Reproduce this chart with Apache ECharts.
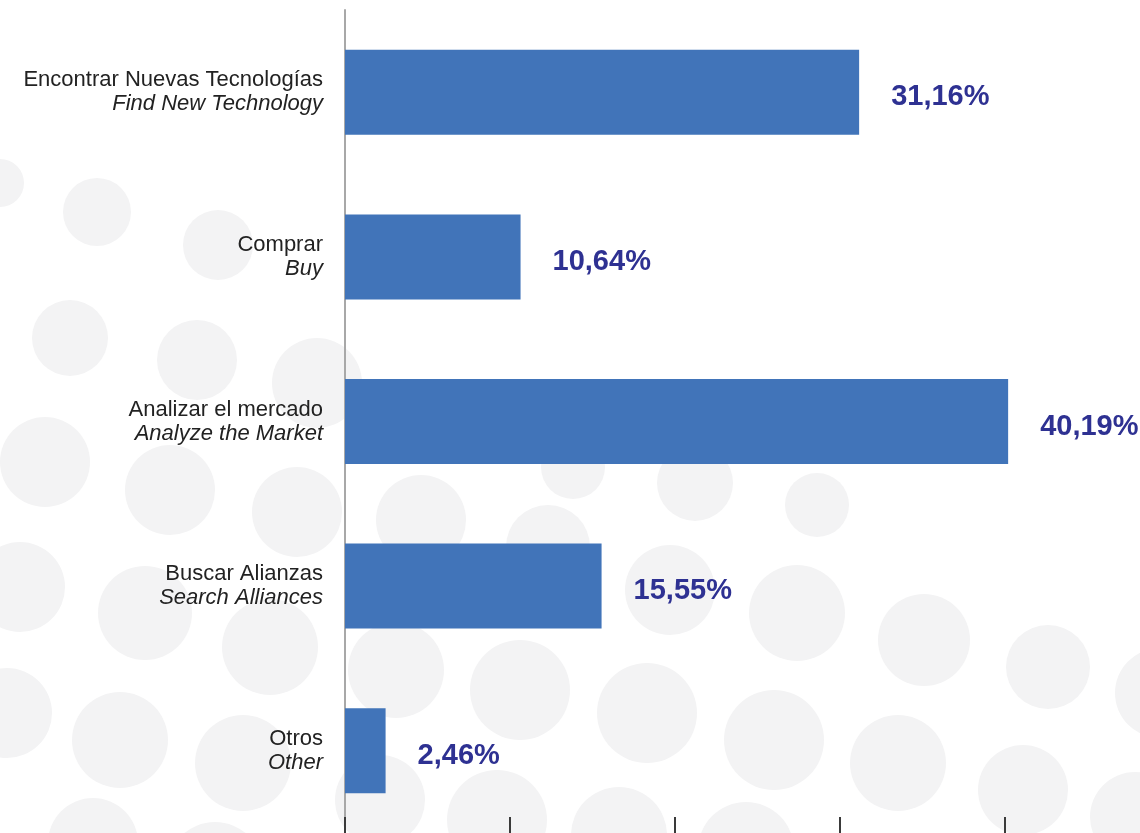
<!DOCTYPE html>
<html>
<head>
<meta charset="utf-8">
<script src="https://cdn.jsdelivr.net/npm/echarts@6/dist/echarts.min.js"></script>
<style>html,body{margin:0;padding:0;background:#fff;}#c{width:1140px;height:833px;}</style>
</head>
<body>
<div id="c"></div>
<script>
// Data
const labelsEs = ['Encontrar Nuevas Tecnologías', 'Comprar', 'Analizar el mercado', 'Buscar Alianzas', 'Otros'];
const labelsEn = ['Find New Technology', 'Buy', 'Analyze the Market', 'Search Alliances', 'Other'];
const values = [31.16, 10.64, 40.19, 15.55, 2.46];

// Decorative background dots (not data)
const decoDots = [
  [0,183,24],[97,212,34],[218,245,35],[70,338,38],[197,360,40],[317,383,45],
  [45,462,45],[170,490,45],[297,512,45],[20,587,45],[145,613,47],[270,647,48],
  [7,713,45],[120,740,48],[243,763,48],[93,843,45],[215,870,48],
  [421,520,45],[548,547,42],[670,590,45],[797,613,48],[924,640,46],[1048,667,42],[1160,693,45],
  [396,670,48],[520,690,50],[647,713,50],[774,740,50],[898,763,48],[1023,790,45],[1135,817,45],
  [380,800,45],[497,820,50],[619,835,48],[746,850,48],
  [573,467,32],[695,483,38],[817,505,32]
];

const chart = echarts.init(document.getElementById('c'), null, {renderer: 'canvas'});
const categories = labelsEs.map((s, i) => s + '\n' + labelsEn[i]);

chart.setOption({
  backgroundColor: '#ffffff',
  animation: false,
  graphic: decoDots.map(d => ({
    type: 'circle', z: -10, silent: true,
    shape: {cx: d[0], cy: d[1], r: d[2]},
    style: {fill: '#f3f3f4'}
  })),
  grid: {left: 345, top: 10, bottom: 0, width: 825, containLabel: false, outerBoundsMode: 'none'},
  xAxis: {
    type: 'value', min: 0, max: 50, interval: 10,
    axisLine: {show: false},
    axisTick: {show: true, inside: true, length: 16, lineStyle: {color: '#3a3a3a', width: 2}},
    axisLabel: {show: false},
    splitLine: {show: false}
  },
  yAxis: {
    type: 'category', inverse: true, data: categories,
    axisLine: {show: true, lineStyle: {color: '#a8a8a8', width: 2}},
    axisTick: {show: false},
    axisLabel: {
      margin: 22,
      formatter: function (v) {
        const p = v.split('\n');
        return '{a|' + p[0] + '}\n{b|' + p[1] + '}';
      },
      rich: {
        a: {fontFamily: '"Liberation Sans", Arial, sans-serif', fontSize: 22, color: '#222', lineHeight: 24, align: 'right'},
        b: {fontFamily: '"Liberation Sans", Arial, sans-serif', fontSize: 22, fontStyle: 'italic', color: '#222', lineHeight: 24, align: 'right'}
      }
    }
  },
  series: [{
    type: 'bar', data: values, barWidth: 85,
    itemStyle: {color: '#4174b9'},
    label: {
      show: true, position: 'right', distance: 32, offset: [0, 5],
      fontFamily: '"Liberation Sans", Arial, sans-serif',
      fontWeight: 'bold', fontSize: 29, color: '#2e3192',
      formatter: p => p.value.toFixed(2).replace('.', ',') + '%'
    }
  }]
});
</script>
</body>
</html>
